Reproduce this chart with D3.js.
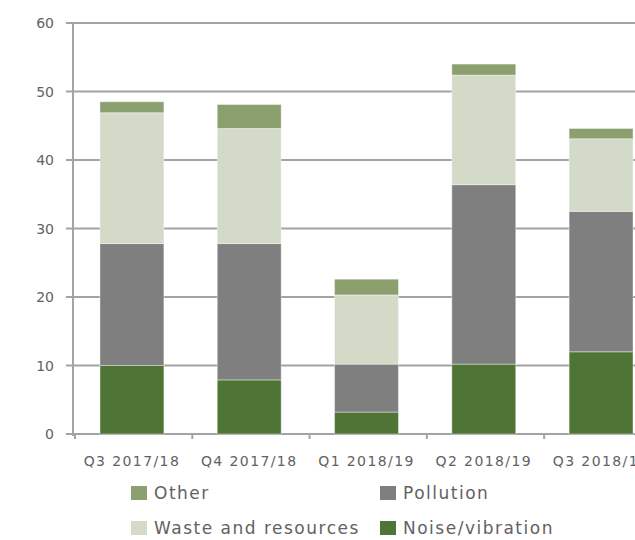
<!DOCTYPE html>
<html>
<head>
<script src="https://cdn.jsdelivr.net/npm/d3@7"></script>
<style>
  html, body { margin: 0; padding: 0; background: #fff; }
  text { font-family: "DejaVu Sans", sans-serif; fill: #626262; }
</style>
</head>
<body>
<script>
var w = 635, h = 540;

// data
var quarters = ["Q3 2017/18", "Q4 2017/18", "Q1 2018/19", "Q2 2018/19", "Q3 2018/19"];
var noise     = [10.0, 7.9, 3.2, 10.2, 12.0];
var pollution = [17.8, 19.9, 7.0, 26.2, 20.5];
var waste     = [19.1, 16.8, 10.1, 16.0, 10.6];
var other     = [1.6, 3.5, 2.3, 1.6, 1.5];
var yTicks = [0, 10, 20, 30, 40, 50, 60];

var seriesNames = ["Noise/vibration", "Pollution", "Waste and resources", "Other"];
var seriesColors = ["#4e7536", "#7f7f7f", "#d3dbc8", "#8b9f6f"];

var rows = quarters.map(function(q, i){
  return { q: q, "Noise/vibration": noise[i], "Pollution": pollution[i],
           "Waste and resources": waste[i], "Other": other[i] };
});

var stack = d3.stack().keys(seriesNames)(rows);

var svg = d3.select("body").append("svg").attr("width", w).attr("height", h);

var x = d3.scaleBand().domain(quarters).range([73, 660]).paddingInner(0.455).paddingOuter(0.23);
var y = d3.scaleLinear().domain([0, 60]).range([434, 23]);

// gridlines
svg.append("g").selectAll("line")
  .data(yTicks)
  .enter().append("line")
  .attr("x1", 66).attr("x2", w)
  .attr("y1", function(d){ return y(d); })
  .attr("y2", function(d){ return y(d); })
  .attr("stroke", "#a3a3a3").attr("stroke-width", 2);

// y axis line
svg.append("line")
  .attr("x1", 73).attr("x2", 73).attr("y1", y(60)).attr("y2", y(0) + 2)
  .attr("stroke", "#a3a3a3").attr("stroke-width", 2);

// y labels
svg.append("g").selectAll("text")
  .data(yTicks)
  .enter().append("text")
  .attr("x", 54)
  .attr("y", function(d){ return y(d); })
  .attr("dy", "0.36em")
  .attr("text-anchor", "end")
  .attr("font-size", "14px")
  .text(function(d){ return d; });

// x ticks at band boundaries
var step = x.step();
var bounds = quarters.map(function(q, i){ return 75 + i * step; });
svg.append("g").selectAll("line")
  .data(bounds)
  .enter().append("line")
  .attr("x1", function(d){ return d; }).attr("x2", function(d){ return d; })
  .attr("y1", y(0)).attr("y2", y(0) + 5)
  .attr("stroke", "#a3a3a3").attr("stroke-width", 2);

// bars
svg.append("g").selectAll("g")
  .data(stack)
  .enter().append("g")
  .attr("fill", function(d, i){ return seriesColors[i]; })
  .selectAll("rect")
  .data(function(d){ return d; })
  .enter().append("rect")
  .attr("x", function(d){ return x(d.data.q); })
  .attr("width", x.bandwidth())
  .attr("y", function(d){ return y(d[1]); })
  .attr("height", function(d){ return y(d[0]) - y(d[1]); })
  .attr("stroke", "#ffffff").attr("stroke-opacity", 0.4).attr("stroke-width", 1);

// x labels
svg.append("g").selectAll("text")
  .data(quarters)
  .enter().append("text")
  .attr("x", function(d){ return x(d) + x.bandwidth() / 2; })
  .attr("y", 461)
  .attr("dy", "0.36em")
  .attr("text-anchor", "middle")
  .attr("font-size", "14px")
  .attr("letter-spacing", "1.4px")
  .text(function(d){ return d; });

// legend
var legendItems = [
  { name: "Other", color: seriesColors[3], x: 131, y: 493 },
  { name: "Pollution", color: seriesColors[1], x: 380, y: 493 },
  { name: "Waste and resources", color: seriesColors[2], x: 131, y: 528 },
  { name: "Noise/vibration", color: seriesColors[0], x: 380, y: 528 }
];
var lg = svg.append("g").selectAll("g")
  .data(legendItems)
  .enter().append("g")
  .attr("transform", function(d){ return "translate(" + d.x + "," + d.y + ")"; });
lg.append("rect")
  .attr("x", 0).attr("y", -7).attr("width", 16).attr("height", 14)
  .attr("fill", function(d){ return d.color; });
lg.append("text")
  .attr("x", 23).attr("y", 0).attr("dy", "0.36em")
  .attr("font-size", "17px")
  .attr("letter-spacing", "1.5px")
  .text(function(d){ return d.name; });
</script>
</body>
</html>
